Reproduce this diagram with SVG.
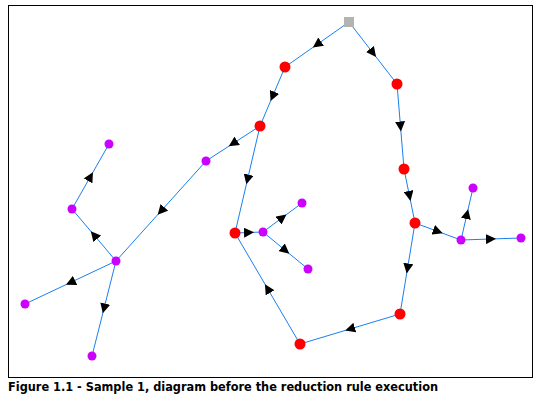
<svg xmlns="http://www.w3.org/2000/svg" width="539" height="404" viewBox="0 0 539 404">
<style>
.e{fill:none;stroke:#1a7ff0;stroke-width:1;marker-mid:url(#arr)}
.r{fill:#ff0000}
.p{fill:#cc00ff}
.s{fill:#b3b3b3}
.cap{font-family:"DejaVu Sans",Verdana,sans-serif;font-weight:bold;font-size:12px;fill:#000}
</style>
<defs>
<marker id="arr" viewBox="0 0 10 10" refX="5" refY="5" markerWidth="10" markerHeight="10" markerUnits="userSpaceOnUse" orient="auto">
<path d="M0,0 L10,5 L0,10 Z" fill="#000"/>
</marker>
</defs>
<rect x="8.5" y="5.5" width="524" height="372" fill="#fff" stroke="#000" stroke-width="1"/>
<g id="connectors">
<path class="e" d="M349,22 L317,44.5 L285,67"/>
<path class="e" d="M349,22 L373,53 L397,84"/>
<path class="e" d="M285,67 L272.5,96.5 L260,126"/>
<path class="e" d="M397,84 L400.5,126.5 L404,169"/>
<path class="e" d="M404,169 L409.5,196 L415,223"/>
<path class="e" d="M415,223 L407.5,268.5 L400,314"/>
<path class="e" d="M400,314 L350,329 L300,344"/>
<path class="e" d="M300,344 L267.5,288.5 L235,233"/>
<path class="e" d="M260,126 L247.5,179.5 L235,233"/>
<path class="e" d="M260,126 L233,143.5 L206,161"/>
<path class="e" d="M206,161 L161,211 L116,261"/>
<path class="e" d="M116,261 L94,235 L72,209"/>
<path class="e" d="M72,209 L90.5,176.5 L109,144"/>
<path class="e" d="M116,261 L70.5,282.5 L25,304"/>
<path class="e" d="M116,261 L104,308.5 L92,356"/>
<path class="e" d="M235,233 L249,232.5 L263,232"/>
<path class="e" d="M263,232 L282.5,217.5 L302,203"/>
<path class="e" d="M263,232 L285.5,250.5 L308,269"/>
<path class="e" d="M415,223 L438,231.5 L461,240"/>
<path class="e" d="M461,240 L467,214 L473,188"/>
<path class="e" d="M461,240 L491,239 L521,238"/>
</g>
<g id="S"><rect class="s" x="344" y="17" width="10" height="10"/></g>
<g id="A"><circle class="r" cx="285" cy="67" r="5.5"/></g>
<g id="B"><circle class="r" cx="260" cy="126" r="5.5"/></g>
<g id="C"><circle class="r" cx="397" cy="84" r="5.5"/></g>
<g id="D"><circle class="r" cx="404" cy="169" r="5.5"/></g>
<g id="E"><circle class="r" cx="415" cy="223" r="5.5"/></g>
<g id="F"><circle class="r" cx="400" cy="314" r="5.5"/></g>
<g id="G"><circle class="r" cx="300" cy="344" r="5.5"/></g>
<g id="H"><circle class="r" cx="235" cy="233" r="5.5"/></g>
<g id="P1"><circle class="p" cx="109" cy="144" r="4.5"/></g>
<g id="P2"><circle class="p" cx="206" cy="161" r="4.5"/></g>
<g id="P3"><circle class="p" cx="72" cy="209" r="4.5"/></g>
<g id="P4"><circle class="p" cx="116" cy="261" r="4.5"/></g>
<g id="P5"><circle class="p" cx="25" cy="304" r="4.5"/></g>
<g id="P6"><circle class="p" cx="92" cy="356" r="4.5"/></g>
<g id="P7"><circle class="p" cx="263" cy="232" r="4.5"/></g>
<g id="P8"><circle class="p" cx="302" cy="203" r="4.5"/></g>
<g id="P9"><circle class="p" cx="308" cy="269" r="4.5"/></g>
<g id="P10"><circle class="p" cx="461" cy="240" r="4.5"/></g>
<g id="P11"><circle class="p" cx="473" cy="188" r="4.5"/></g>
<g id="P12"><circle class="p" cx="521" cy="238" r="4.5"/></g>
<text class="cap" x="8" y="391" textLength="430" lengthAdjust="spacingAndGlyphs">Figure 1.1 - Sample 1, diagram before the reduction rule execution</text>
</svg>
